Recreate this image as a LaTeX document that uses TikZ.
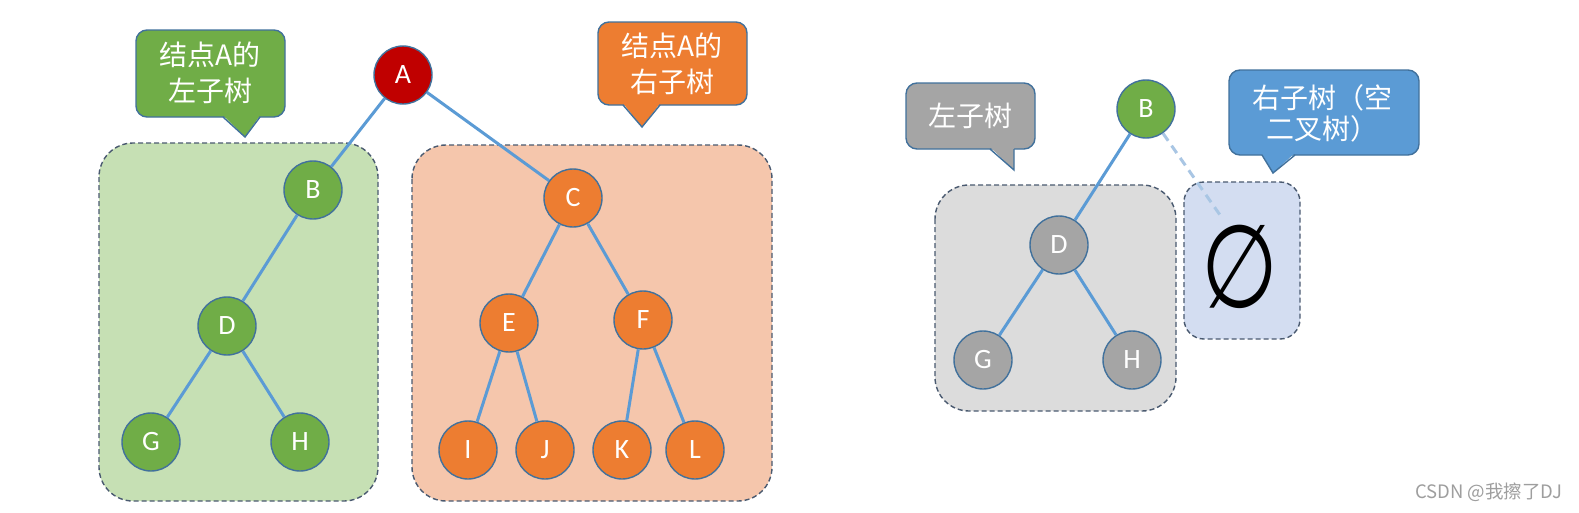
\documentclass[tikz,border=0pt]{standalone}
\usepackage{fontspec}
\setmainfont{Carlito}
\newfontfamily\cjk{Noto Sans CJK SC}
\newfontfamily\dejavu{DejaVu Sans}
\definecolor{cgreen}{HTML}{70AD47}
\definecolor{cred}{HTML}{C00000}
\definecolor{corange}{HTML}{ED7D31}
\definecolor{cgray}{HTML}{A5A5A5}
\definecolor{cblue}{HTML}{5B9BD5}
\definecolor{nborder}{HTML}{41719C}
\definecolor{bborder}{HTML}{4A5A70}
\definecolor{fgreen}{HTML}{C6E0B4}
\definecolor{forange}{HTML}{F5C6AC}
\definecolor{fgray}{HTML}{DCDCDC}
\definecolor{fblue}{HTML}{D3DDF1}
\definecolor{edgec}{HTML}{5B9BD5}
\definecolor{dashc}{HTML}{A9C6E4}
\begin{document}
\begin{tikzpicture}[x=1pt,y=-1pt,
  tn/.style={circle, minimum size=58pt, inner sep=0pt, draw=nborder, line width=1.4pt,
    font=\fontsize{28}{28}\selectfont, text=white},
  link/.style={draw=edgec, line width=3pt},
  region/.style={draw=bborder, dash pattern=on 5pt off 3pt, line width=1.4pt, rounded corners=34pt},
  cbox/.style={draw=nborder, line width=1.4pt, rounded corners=11pt},
  ctail/.style={draw=nborder, line width=1.4pt, line join=miter},
  ctext/.style={align=center, text=white, font=\cjk\fontsize{28}{36}\selectfont, inner sep=0pt}
]
\fill[white] (0,0) rectangle (1579,512);
\useasboundingbox (0,0) rectangle (1579,512);

% ---------- regions ----------
\path[region, fill=fgreen] (99,143) rectangle (378,501);
\path[region, fill=forange] (412,145) rectangle (772,501);
\path[region, fill=fgray] (935,185) rectangle (1176,411);
\path[region, fill=fblue, rounded corners=20pt] (1184,182) rectangle (1300,339);

% ---------- callouts ----------
% green
\path[cbox, fill=cgreen] (136,30) rectangle (285,117);
\fill[cgreen] (222,114) -- (245,137) -- (261,114) -- cycle;
\draw[ctail] (223,117) -- (245,137) -- (260,117);
\node[ctext] (cl) at (210,73) {结点A的\\左子树};
% orange
\path[cbox, fill=corange] (598,22) rectangle (747,105);
\fill[corange] (622,102) -- (642,127) -- (661,102) -- cycle;
\draw[ctail] (623,105) -- (642,127) -- (660,105);
\node[ctext] (cr) at (672,64) {结点A的\\右子树};
% gray
\path[cbox, fill=cgray] (906,83) rectangle (1035,149);
\fill[cgray] (989,146) -- (1014,170) -- (1014,146) -- cycle;
\draw[ctail] (990,149) -- (1014,170) -- (1014,149);
\node[ctext] (cg) at (970,116) {左子树};
% blue
\path[cbox, fill=cblue] (1229,70) rectangle (1419,155);
\fill[cblue] (1261,152) -- (1273,173) -- (1296,152) -- cycle;
\draw[ctail] (1262,155) -- (1273,173) -- (1295,155);
\node[ctext, font=\cjk\fontsize{28}{31}\selectfont] (cb) at (1322,113) {右子树（空\\二叉树）};

% ---------- left tree ----------
\node[tn, fill=cred] (A) at (403,75) {A};
\node[tn, fill=cgreen] (B) at (313,190) {B};
\node[tn, fill=cgreen] (D) at (227,326) {D};
\node[tn, fill=cgreen] (G) at (151,442) {G};
\node[tn, fill=cgreen] (H) at (300,442) {H};
\node[tn, fill=corange] (C) at (573,198) {C};
\node[tn, fill=corange] (E) at (509,323) {E};
\node[tn, fill=corange] (F) at (643,320) {F};
\node[tn, fill=corange] (I) at (468,450) {I};
\node[tn, fill=corange] (J) at (545,450) {J};
\node[tn, fill=corange] (K) at (622,450) {K};
\node[tn, fill=corange] (L) at (695,450) {L};

\path[link] (A) -- (B);
\path[link] (A) -- (C);
\path[link] (B) -- (D);
\path[link] (D) -- (G);
\path[link] (D) -- (H);
\path[link] (C) -- (E);
\path[link] (C) -- (F);
\path[link] (E) -- (I);
\path[link] (E) -- (J);
\path[link] (F) -- (K);
\path[link] (F) -- (L);

% ---------- right tree ----------
\node[tn, fill=cgreen] (B2) at (1146,109) {B};
\node[tn, fill=cgray] (D2) at (1059,245) {D};
\node[tn, fill=cgray] (G2) at (983,360) {G};
\node[tn, fill=cgray] (H2) at (1132,360) {H};
\node[font=\dejavu\fontsize{116}{116}\selectfont, xscale=0.76, inner sep=0pt] (empty) at (1240,267) {∅};
\coordinate (eend) at (1220,215);

\path[link] (B2) -- (D2);
\path[link] (D2) -- (G2);
\path[link] (D2) -- (H2);
\path[draw=dashc, line width=3pt, dash pattern=on 9pt off 6pt] (B2) -- (eend);

% watermark
\node[font=\cjk\fontsize{18.5}{18.5}\selectfont, text=black!38, anchor=east] (wm) at (1566,492) {CSDN @我擦了DJ};
\end{tikzpicture}
\end{document}
